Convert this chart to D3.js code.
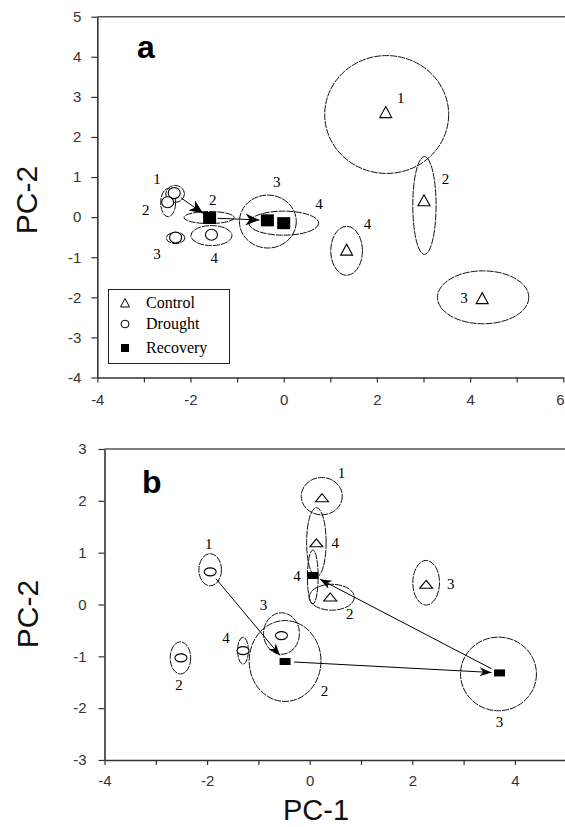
<!DOCTYPE html>
<html><head><meta charset="utf-8">
<script src="https://cdn.jsdelivr.net/npm/d3@7/dist/d3.min.js"></script>
<style>body{margin:0;background:#fff}</style>
</head><body>
<svg id="chart" width="565" height="827"></svg>
<script>
// ---------- DATA ----------
// rows: [id, x, y, ellipseCx, ellipseCy, ellipseRx, ellipseRy, labelX, labelY]  (data units)
const aControl = [
  [1, 2.19, 2.62, 2.21, 2.56, 1.33, 1.47, 2.51, 2.97],
  [2, 3.01, 0.42, 3.02, 0.29, 0.25, 1.22, 3.47, 0.96],
  [3, 4.26, -2.02, 4.28, -2.00, 0.98, 0.66, 3.87, -2.02],
  [4, 1.35, -0.81, 1.35, -0.84, 0.34, 0.61, 1.80, -0.18]
];
const aDrought = [
  [1, -2.35, 0.60, -2.33, 0.58, 0.20, 0.21, -2.72, 0.96],
  [2, -2.49, 0.37, -2.48, 0.36, 0.16, 0.35, -2.96, 0.18],
  [3, -2.32, -0.51, -2.32, -0.52, 0.20, 0.14, -2.72, -0.91],
  [4, -1.55, -0.44, -1.55, -0.46, 0.44, 0.25, -1.49, -1.01]
];
const aRecovery = [
  [2, -1.59, -0.02, -1.60, -0.01, 0.54, 0.15, -1.52, 0.43],
  [3, -0.35, -0.08, -0.34, -0.11, 0.61, 0.66, -0.15, 0.87],
  [4, 0.00, -0.15, 0.00, -0.15, 0.75, 0.30, 0.76, 0.33]
];
const aArrows = [["Drought", 1, "Recovery", 2], ["Recovery", 2, "Recovery", 3]];

const bControl = [
  [1, 0.24, 2.06, 0.235, 2.09, 0.40, 0.36, 0.62, 2.53],
  [2, 0.40, 0.145, 0.43, 0.14, 0.44, 0.25, 0.78, -0.19],
  [3, 2.27, 0.39, 2.27, 0.42, 0.26, 0.43, 2.75, 0.39],
  [4, 0.13, 1.19, 0.13, 1.20, 0.19, 0.67, 0.50, 1.19]
];
const bDrought = [
  [1, -1.94, 0.63, -1.94, 0.67, 0.22, 0.31, -1.97, 1.16],
  [2, -2.51, -1.03, -2.52, -1.03, 0.20, 0.31, -2.55, -1.56],
  [3, -0.55, -0.60, -0.55, -0.56, 0.35, 0.40, -0.90, 0.00],
  [4, -1.30, -0.89, -1.30, -0.89, 0.105, 0.26, -1.63, -0.64]
];
const bRecovery = [
  [2, -0.48, -1.10, -0.48, -1.09, 0.70, 0.78, 0.29, -1.66],
  [3, 3.70, -1.32, 3.68, -1.34, 0.74, 0.71, 3.70, -2.27],
  [4, 0.06, 0.56, 0.06, 0.53, 0.105, 0.52, -0.25, 0.55]
];
const bArrows = [["Drought", 1, "Recovery", 2], ["Recovery", 2, "Recovery", 3], ["Recovery", 3, "Recovery", 4]];

const legendLabels = ["Control", "Drought", "Recovery"];
const aXTicks = [-4, -2, 0, 2, 4, 6], aXMinor = [-3, -1, 1, 3, 5];
const aYTicks = [-4, -3, -2, -1, 0, 1, 2, 3, 4, 5];
const bXTicks = [-4, -2, 0, 2, 4], bXMinor = [-3, -1, 1, 3];
const bYTicks = [-3, -2, -1, 0, 1, 2, 3];
const xTitle = "PC-1", yTitle = "PC-2";

// ---------- DRAWING ----------
const W = 565;
const svg = d3.select("#chart");
const defs = svg.append("defs");
function arrowMarker(id, len, wid) {
  defs.append("marker").attr("id", id)
    .attr("markerUnits", "userSpaceOnUse")
    .attr("viewBox", `0 0 ${len} ${wid}`)
    .attr("refX", len).attr("refY", wid / 2)
    .attr("markerWidth", len).attr("markerHeight", wid)
    .attr("orient", "auto")
    .append("path")
    .attr("d", `M0,0 L${len},${wid / 2} L0,${wid} L${len * 0.3},${wid / 2} Z`)
    .attr("fill", "#000");
}
arrowMarker("arrA", 14, 12);
arrowMarker("arrB", 12, 9);

const tickFont = "'Liberation Sans Narrow','Liberation Sans',Arial,sans-serif";
const serif = "'Liberation Serif','Times New Roman',serif";
const hyphenFmt = d => String(d);

function panel(cfg) {
  const x = d3.scaleLinear().domain(cfg.xDomain).range(cfg.xRange);
  const y = d3.scaleLinear().domain(cfg.yDomain).range(cfg.yRange);
  const g = svg.append("g");
  const left = cfg.xRange[0], bottom = cfg.yRange[0], top = cfg.yRange[1];

  // top frame
  g.append("line").attr("x1", left).attr("x2", W).attr("y1", top).attr("y2", top)
    .attr("stroke", "#555").attr("stroke-width", 1.6);

  // axes
  const xa = g.append("g").attr("transform", `translate(0,${bottom})`)
    .call(d3.axisBottom(x).tickValues(cfg.xTicks).tickFormat(hyphenFmt)
      .tickSize(5).tickSizeOuter(0).tickPadding(cfg.xPad));
  const xm = g.append("g").attr("transform", `translate(0,${bottom})`)
    .call(d3.axisBottom(x).tickValues(cfg.xMinor).tickFormat("").tickSize(5).tickSizeOuter(0));
  xm.select(".domain").remove();
  const ya = g.append("g").attr("transform", `translate(${left},0)`)
    .call(d3.axisLeft(y).tickValues(cfg.yTicks).tickFormat(hyphenFmt)
      .tickSize(6).tickSizeOuter(0).tickPadding(cfg.yPad));
  [xa, xm, ya].forEach(a => {
    a.select(".domain").attr("stroke", "#333").attr("stroke-width", 1.6);
    a.selectAll(".tick line").attr("stroke", "#333").attr("stroke-width", 1.2);
    a.selectAll(".tick text").attr("font-family", tickFont).attr("font-size", 15).attr("fill", "#333");
  });
  // keep a tick label at the right page edge inside the page
  xa.selectAll(".tick").each(function (d) {
    if (x(d) > W - 8) d3.select(this).select("text").attr("text-anchor", "end").attr("x", W - x(d) - 1);
  });

  // panel letter
  g.append("text").attr("x", cfg.letterX).attr("y", cfg.letterY).text(cfg.letter)
    .attr("font-family", "'Liberation Sans',Arial,sans-serif").attr("font-weight", "bold")
    .attr("font-size", 32).attr("fill", "#000");

  // y title
  g.append("text").attr("transform", `translate(${cfg.yTitleX},${cfg.yTitleY}) rotate(-90)`)
    .attr("text-anchor", "middle").text(yTitle)
    .attr("font-family", "'Liberation Sans',Arial,sans-serif").attr("font-size", 30).attr("fill", "#111");

  const groupsData = { Control: cfg.control, Drought: cfg.drought, Recovery: cfg.recovery };
  const all = [];
  Object.keys(groupsData).forEach(k => groupsData[k].forEach(r => all.push({ grp: k, r })));

  // ellipses
  g.selectAll(".ell").data(all).enter().append("ellipse")
    .attr("cx", d => x(d.r[3])).attr("cy", d => y(d.r[4]))
    .attr("rx", d => Math.abs(x(d.r[5]) - x(0))).attr("ry", d => Math.abs(y(d.r[6]) - y(0)))
    .attr("fill", "none").attr("stroke", "#111").attr("stroke-width", 1)
    .attr("stroke-dasharray", "7,1");

  // arrows
  const find = (grp, id) => groupsData[grp].find(r => r[0] === id);
  cfg.arrows.forEach(a => {
    const s = find(a[0], a[1]), t = find(a[2], a[3]);
    const x1 = x(s[1]), y1 = y(s[2]), x2 = x(t[1]), y2 = y(t[2]);
    const L = Math.hypot(x2 - x1, y2 - y1), ux = (x2 - x1) / L, uy = (y2 - y1) / L;
    g.append("line")
      .attr("x1", x1 + ux * cfg.arrStart).attr("y1", y1 + uy * cfg.arrStart)
      .attr("x2", x2 - ux * cfg.arrEnd).attr("y2", y2 - uy * cfg.arrEnd)
      .attr("stroke", "#000").attr("stroke-width", 1)
      .attr("marker-end", `url(#${cfg.marker})`);
  });

  // markers
  const m = cfg.mk;
  g.selectAll(".tri").data(cfg.control).enter().append("path")
    .attr("d", r => { const cx = x(r[1]), cy = y(r[2]);
      return `M${cx},${cy - m.triH / 2} L${cx + m.triW / 2},${cy + m.triH / 2} L${cx - m.triW / 2},${cy + m.triH / 2} Z`; })
    .attr("fill", "#fff").attr("stroke", "#000").attr("stroke-width", 1.1);
  g.selectAll(".cir").data(cfg.drought).enter().append("ellipse")
    .attr("cx", r => x(r[1])).attr("cy", r => y(r[2]))
    .attr("rx", m.cirRx).attr("ry", m.cirRy)
    .attr("fill", "#fff").attr("stroke", "#000").attr("stroke-width", 1.1);
  g.selectAll(".sq").data(cfg.recovery).enter().append("rect")
    .attr("x", r => x(r[1]) - m.sqW / 2).attr("y", r => y(r[2]) - m.sqH / 2)
    .attr("width", m.sqW).attr("height", m.sqH).attr("fill", "#000");

  // point labels
  g.selectAll(".lab").data(all).enter().append("text")
    .attr("x", d => x(d.r[7])).attr("y", d => y(d.r[8]))
    .attr("text-anchor", "middle").attr("dominant-baseline", "central")
    .attr("font-family", serif).attr("font-size", 15).attr("fill", "#000")
    .text(d => d.r[0]);
  return { x, y, g };
}

const A = panel({
  xDomain: [-4, 6], xRange: [97.3, 563.3], yDomain: [-4, 5], yRange: [377.5, 16.7],
  xTicks: aXTicks, xMinor: aXMinor, yTicks: aYTicks, xPad: 12, yPad: 10,
  letter: "a", letterX: 137, letterY: 58, yTitleX: 37, yTitleY: 200,
  control: aControl, drought: aDrought, recovery: aRecovery, arrows: aArrows,
  arrStart: 8, arrEnd: 8, marker: "arrA",
  mk: { triW: 12, triH: 11, cirRx: 6, cirRy: 5.5, sqW: 13, sqH: 12 }
});

// legend (panel a)
const lg = A.g.append("g");
lg.append("rect").attr("x", 108.5).attr("y", 289.5).attr("width", 121).attr("height", 74)
  .attr("fill", "#fff").attr("stroke", "#222").attr("stroke-width", 1);
const legY = [303, 324, 348];
legendLabels.forEach((t, i) => {
  const cx = 125, cy = legY[i];
  if (i === 0) lg.append("path").attr("d", `M${cx},${cy - 4.5} L${cx + 4.5},${cy + 4} L${cx - 4.5},${cy + 4} Z`)
    .attr("fill", "#fff").attr("stroke", "#000");
  if (i === 1) lg.append("ellipse").attr("cx", cx).attr("cy", cy).attr("rx", 4).attr("ry", 3.8)
    .attr("fill", "#fff").attr("stroke", "#000");
  if (i === 2) lg.append("rect").attr("x", cx - 4).attr("y", cy - 4).attr("width", 8).attr("height", 8).attr("fill", "#000");
  lg.append("text").attr("x", 146).attr("y", cy + 5).text(t)
    .attr("font-family", serif).attr("font-size", 16).attr("fill", "#000");
});

const B = panel({
  xDomain: [-4, 5], xRange: [104.5, 566.2], yDomain: [-3, 3], yRange: [760, 449],
  xTicks: bXTicks, xMinor: bXMinor, yTicks: bYTicks, xPad: 10, yPad: 12,
  letter: "b", letterX: 142, letterY: 493, yTitleX: 38, yTitleY: 614,
  control: bControl, drought: bDrought, recovery: bRecovery, arrows: bArrows,
  arrStart: 9, arrEnd: 8, marker: "arrB",
  mk: { triW: 13, triH: 8, cirRx: 6, cirRy: 4, sqW: 11, sqH: 7 }
});

svg.append("text").attr("x", 316).attr("y", 820).attr("text-anchor", "middle").text(xTitle)
  .attr("font-family", "'Liberation Sans',Arial,sans-serif").attr("font-size", 29).attr("fill", "#111");
</script>
</body></html>
